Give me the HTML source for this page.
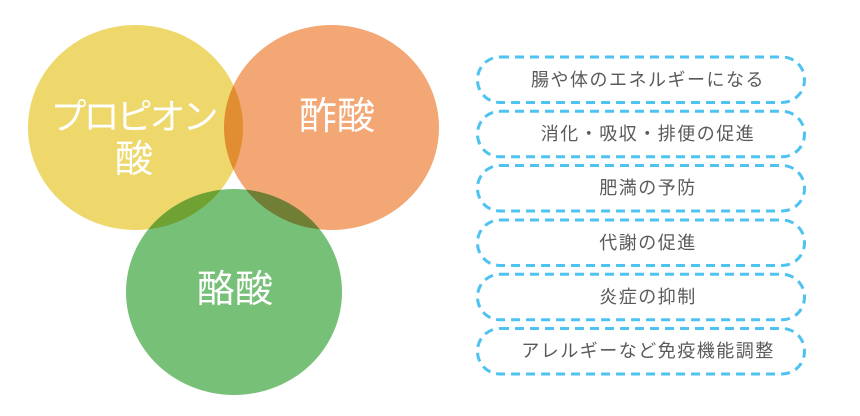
<!DOCTYPE html>
<html><head><meta charset="utf-8"><style>
html,body{margin:0;padding:0;background:#fff;}
body{width:860px;height:416px;position:relative;overflow:hidden;font-family:"Liberation Sans","Noto Sans CJK JP",sans-serif;}
svg{position:absolute;left:0;top:0;}
.c{position:absolute;color:#fff;white-space:nowrap;text-align:center;font-weight:400;}
.t{position:absolute;left:448px;width:400px;text-align:center;font-size:18px;line-height:20px;height:20px;color:#5a5a5a;letter-spacing:1.5px;white-space:nowrap;}
</style></head><body>
<svg width="860" height="416" viewBox="0 0 860 416">
<g style="isolation:isolate">
<ellipse cx="135.5" cy="127.5" rx="107.5" ry="102.5" fill="#EED76B" style="mix-blend-mode:multiply"/>
<ellipse cx="331.5" cy="127.5" rx="107.5" ry="102.5" fill="#F2A774" style="mix-blend-mode:multiply"/>
<ellipse cx="234" cy="292" rx="108" ry="103" fill="#77C077" style="mix-blend-mode:multiply"/>
</g>
<g fill="none" stroke="#4EC3F1" stroke-width="3" stroke-dasharray="9 6">
<rect x="477.5" y="57" width="327" height="45.5" rx="22.5"/>
<rect x="477.5" y="111.3" width="327" height="45.5" rx="22.5"/>
<rect x="477.5" y="165.5" width="327" height="45.5" rx="22.5"/>
<rect x="477.5" y="220" width="327" height="45.5" rx="22.5"/>
<rect x="477.5" y="274.3" width="327" height="45.5" rx="22.5"/>
<rect x="477.5" y="328.5" width="327" height="45.5" rx="22.5"/>
</g>
</svg>
<div class="c" style="left:33px;width:200px;top:97px;font-size:36px;line-height:40px;letter-spacing:-3px;">プロピオン</div>
<div class="c" style="left:84px;width:100px;top:139px;font-size:38px;line-height:42px;">酸</div>
<div class="c" style="left:237px;width:200px;top:96px;font-size:38px;line-height:42px;">酢酸</div>
<div class="c" style="left:135px;width:200px;top:269px;font-size:38px;line-height:42px;">酪酸</div>
<div class="t" style="top:70px;">腸や体のエネルギーになる</div>
<div class="t" style="top:124px;">消化・吸収・排便の促進</div>
<div class="t" style="top:178px;">肥満の予防</div>
<div class="t" style="top:233px;">代謝の促進</div>
<div class="t" style="top:287px;">炎症の抑制</div>
<div class="t" style="top:341px;">アレルギーなど免疫機能調整</div>
</body></html>
